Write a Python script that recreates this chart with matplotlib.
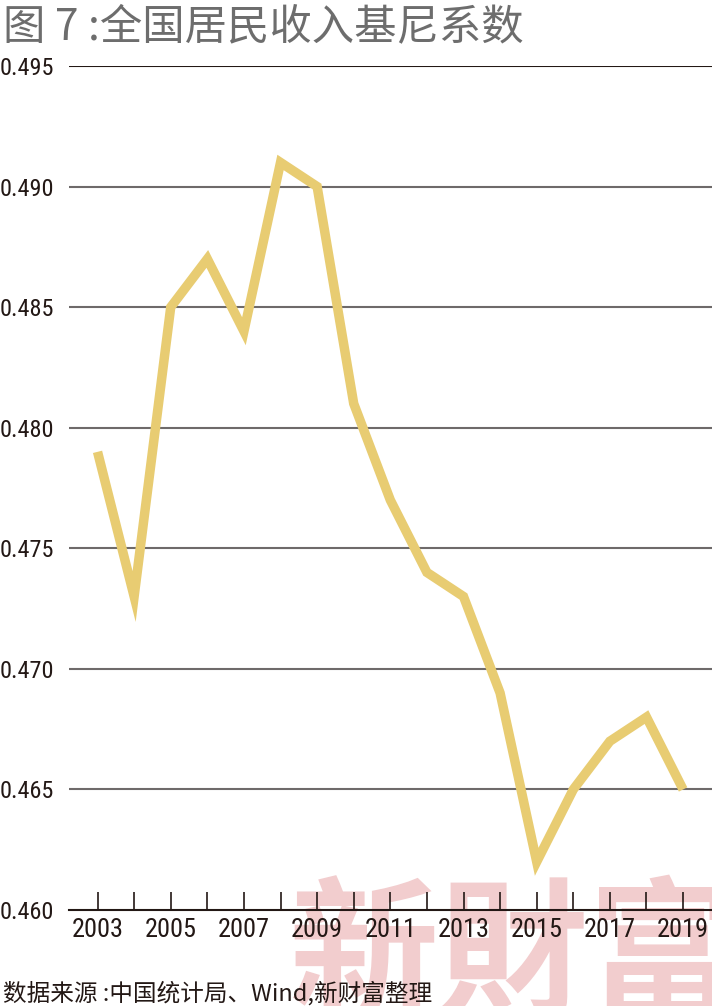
import numpy as np
import matplotlib.pyplot as plt
from matplotlib import font_manager

years = list(range(2003, 2020))
gini = [0.479, 0.473, 0.485, 0.487, 0.484, 0.491, 0.490, 0.481, 0.477,
        0.474, 0.473, 0.469, 0.462, 0.465, 0.467, 0.468, 0.465]
yticks = [0.460, 0.465, 0.470, 0.475, 0.480, 0.485, 0.490, 0.495]
xlabels = [2003, 2005, 2007, 2009, 2011, 2013, 2015, 2017, 2019]

plt.rcParams['font.family'] = ['Noto Sans CJK SC', 'DejaVu Sans']
dark = '#231815'

# narrow face for the numbers if there is one
names = {f.name for f in font_manager.fontManager.ttflist}
narrow = [n for n in ['Liberation Sans Narrow', 'Roboto Condensed', 'Open Sans Condensed',
                      'DejaVu Sans Condensed'] if n in names]
num_kw = dict(family=narrow[:1] + ['DejaVu Sans'], color=dark)
if not narrow:
    num_kw['fontstretch'] = 'condensed'

fig = plt.figure(figsize=(7.12, 10.06), dpi=100)

# watermark behind everything
fig.text(0.405, -0.03, '新財富', fontsize=108, color='#f2cdce', fontweight='bold',
         family=['Noto Sans CJK TC', 'DejaVu Sans'], ha='left', va='bottom', zorder=-1)

ax = fig.add_axes([0.0969, 0.0954, 0.9031, 0.839])
ax.patch.set_alpha(0)
ax.set_xlim(2002.22, 2019.79)
ax.set_ylim(0.460, 0.495)

for v in yticks[1:]:
    ax.axhline(v, color=dark if v == 0.495 else '#6e6a6a', lw=1.5, zorder=1)

ax.plot(years, gini, color='#e8cc72', lw=6.8, solid_joinstyle='miter',
        solid_capstyle='butt', zorder=3)

for s in ['top', 'right', 'left']:
    ax.spines[s].set_visible(False)
ax.spines['bottom'].set_color(dark)
ax.spines['bottom'].set_linewidth(1.5)

ax.set_yticks(yticks)
ax.set_yticklabels([f'{v:.3f}' for v in yticks], fontsize=17.5, **num_kw)
ax.tick_params(axis='y', length=0, pad=11)

ax.set_xticks(years)
ax.set_xticklabels([str(y) if y in xlabels else '' for y in years], fontsize=19, **num_kw)
ax.tick_params(axis='x', direction='in', length=13, width=1.2, color=dark, pad=6)

fig.text(0.004, 0.973, '图 7 :全国居民收入基尼系数', fontsize=30.5, color='#6d6d6d',
         ha='left', va='center')
fig.text(0.004, 0.013, '数据来源 :中国统计局、Wind,新财富整理', fontsize=17, color=dark,
         ha='left', va='center')

fig.savefig('out.png', dpi=100)
